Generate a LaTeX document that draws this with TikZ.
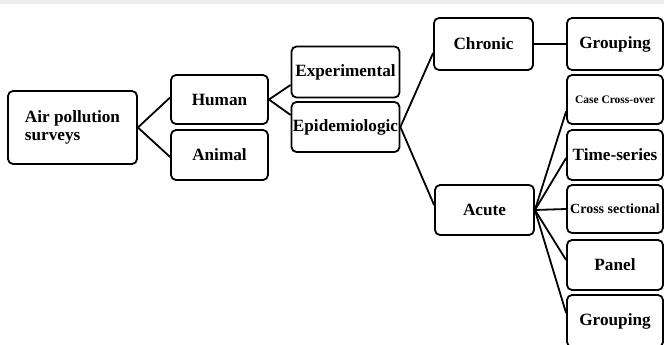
\documentclass[tikz,border=0pt]{standalone}
\usepackage{fontspec}
\setmainfont{Liberation Serif}
\begin{document}
\begin{tikzpicture}[x=1pt,y=-1pt,
  box/.style={draw, line width=1.8pt, rounded corners=5pt, inner sep=0pt, font=\fontsize{17.2}{18}\selectfont\bfseries, align=center},
  link/.style={line width=1.8pt}]
\useasboundingbox (0,0) rectangle (664,345);
\clip (0,0) rectangle (664,345);
\fill[gray!15] (0,0) rectangle (664,4);
\node[box, minimum width=129pt, minimum height=73pt, align=left] (air) at (72.5,127.5) {Air pollution\\surveys};
\node[box, minimum width=97pt, minimum height=49pt] (human) at (219.5,99.5) {Human};
\node[box, minimum width=97pt, minimum height=50pt] (animal) at (219.5,155) {Animal};
\node[box, minimum width=108pt, minimum height=51pt] (exp) at (345.5,72) {Experimental};
\node[box, minimum width=108pt, minimum height=50pt] (epi) at (345.5,127) {Epidemiologic};
\node[box, minimum width=99pt, minimum height=52pt] (chronic) at (483.5,44) {Chronic};
\node[box, minimum width=99pt, minimum height=50pt] (acute) at (484.5,210) {Acute};
\node[box, minimum width=96pt, minimum height=52pt] (grp1) at (615,44) {Grouping};
\node[box, minimum width=96pt, minimum height=49pt, font=\fontsize{11.5}{12}\selectfont\bfseries] (case) at (615,99.5) {Case Cross-over};
\node[box, minimum width=96pt, minimum height=50pt] (time) at (615,155) {Time-series};
\node[box, minimum width=96pt, minimum height=48pt, font=\fontsize{14}{16}\selectfont\bfseries] (cross) at (615,209) {Cross sectional};
\node[box, minimum width=96pt, minimum height=50pt] (panel) at (615,265) {Panel};
\node[box, minimum width=96pt, minimum height=52pt] (grp2) at (615,321) {Grouping};
% connectors
\draw[link] (air.east) -- ([yshift=2pt]human.west);
\draw[link] (air.east) -- ([yshift=-2pt]animal.west);
\draw[link] (human.east) -- ([yshift=-13pt]exp.west);
\draw[link] (human.east) -- ([yshift=12pt]epi.west);
\draw[link] (epi.east) -- ([yshift=-9pt]chronic.west);
\draw[link] (epi.east) -- ([yshift=5pt]acute.west);
\draw[link] (chronic.east) -- (grp1.west);
\draw[link] (acute.east) -- ([yshift=-12pt]case.west);
\draw[link] (acute.east) -- ([yshift=-3pt]time.west);
\draw[link] (acute.east) -- (cross.west);
\draw[link] (acute.east) -- ([yshift=5pt]panel.west);
\draw[link] (acute.east) -- ([yshift=8pt]grp2.west);
\end{tikzpicture}
\end{document}
